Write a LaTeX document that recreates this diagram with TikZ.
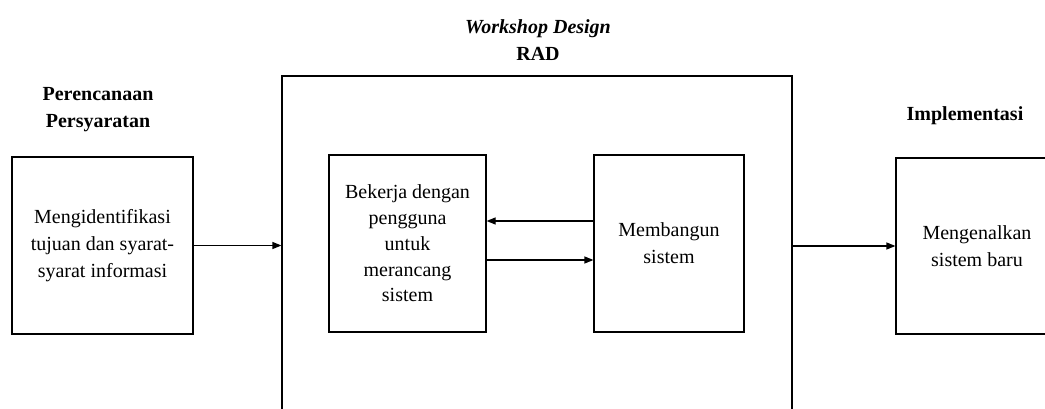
\documentclass[tikz,border=0pt]{standalone}
\usepackage{fontspec}
\setmainfont{Liberation Serif}
\usetikzlibrary{arrows.meta}

\begin{document}
\begin{tikzpicture}[
		x=1pt, y=-1pt,
		every node/.style={rectangle, draw, line width=1.2pt, align=center, font=\fontsize{20}{27}\selectfont},
		head/.style={draw=none, font=\fontsize{20}{27}\selectfont\bfseries},
		flow/.style={-{Triangle[length=9pt, width=7pt]}, line width=1.2pt}
	]
  \clip (0,0) rectangle (1045,409);
  \node (req) [minimum width=181pt, minimum height=177pt] at (102.5, 245.5) {Mengidentifikasi\\tujuan dan syarat-\\syarat informasi};
  \node (req_label) [head] at (98, 110) {Perencanaan\\Persyaratan};
  \node (rad) [minimum width=510pt, minimum height=354pt] at (537, 253) {};
  \node (rad_label) [head] at (538, 40) {\textit{Workshop Design}\\RAD};
  \node (work) [minimum width=157pt, minimum height=177pt, font=\fontsize{20}{25.8}\selectfont] at (407.5, 243.5) {Bekerja dengan\\pengguna\\untuk\\merancang\\sistem};
  \node (build) [minimum width=150pt, minimum height=177pt] at (669, 243.5) {Membangun\\sistem};
  \node (impl) [minimum width=162pt, minimum height=176pt] at (977, 246) {Mengenalkan\\sistem baru};
  \node (impl_label) [head] at (965, 116) {Implementasi};
  \draw [flow] (req.east) -- (req.east -| rad.west);
  \draw [flow] ([yshift=22.5pt]build.west) -- ([yshift=22.5pt]work.east);
  \draw [flow] ([yshift=-16.5pt]work.east) -- ([yshift=-16.5pt]build.west);
  \draw [flow] (rad.east |- impl.west) -- (impl.west);
\end{tikzpicture}
\end{document}
